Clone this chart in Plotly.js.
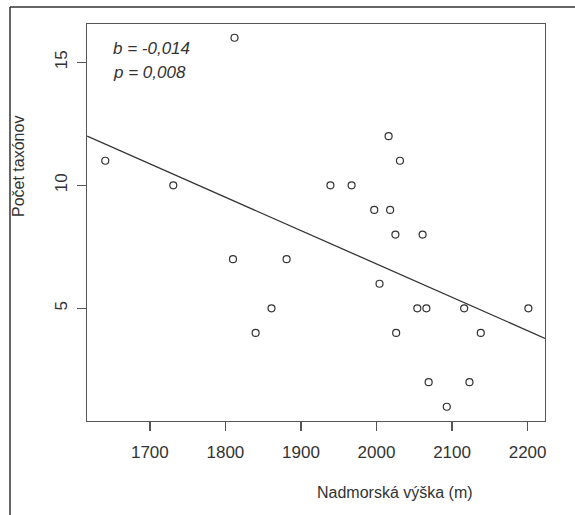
<!DOCTYPE html>
<html>
<head>
<meta charset="utf-8">
<script src="https://cdn.plot.ly/plotly-3.0.1.min.js"></script>
<style>html,body{margin:0;padding:0;background:#fff;}#chart{width:575px;height:515px;}</style>
</head>
<body>
<div id="chart"></div>
<script>
// Altitude (m) and number of taxa
const altitude = [1641, 1731, 1812, 1810, 1881, 1861, 1840,
                  2016, 2031, 1939, 1967, 1997, 2018, 2025, 2061,
                  2004, 2054, 2066, 2116, 2201, 2026, 2138, 2069, 2123, 2093];
const taxa     = [11, 10, 16, 7, 7, 5, 4,
                  12, 11, 10, 10, 9, 9, 8, 8,
                  6, 5, 5, 5, 5, 4, 4, 2, 2, 1];
// Regression line endpoints (read at plot edges)
const fitX = [1617, 2223];
const fitY = [12.0, 3.78];
const xTicks = [1700, 1800, 1900, 2000, 2100, 2200];
const yTicks = [5, 10, 15];
const statsText = ['b = -0,014', 'p = 0,008'];
const xTitle = 'Nadmorská výška (m)';
const yTitle = 'Počet taxónov';

const ink = '#333333';
const W = 575, H = 515;
const m = {l: 87, r: 30, t: 24, b: 94};
const pw = W - m.l - m.r, ph = H - m.t - m.b;
const px = v => (v - m.l) / pw;         // pixel -> paper x
const py = v => 1 - (v - m.t) / ph;     // pixel -> paper y

const traces = [
  {x: fitX, y: fitY, type: 'scatter', mode: 'lines',
   line: {color: ink, width: 1.3}, hoverinfo: 'skip', cliponaxis: true},
  {x: altitude, y: taxa, type: 'scatter', mode: 'markers',
   marker: {symbol: 'circle-open', size: 7, color: ink, line: {width: 1.2, color: ink}}}
];

const layout = {
  width: W, height: H, margin: m, showlegend: false,
  paper_bgcolor: '#fff', plot_bgcolor: '#fff',
  font: {family: 'Liberation Sans, Arial, sans-serif', color: ink, size: 16},
  xaxis: {range: [1616.8, 2223], tickvals: xTicks, ticktext: xTicks.map(String),
          showgrid: false, zeroline: false, showline: true, mirror: true,
          linecolor: '#555', linewidth: 1.3, ticks: 'outside', ticklen: 9, tickwidth: 1.3,
          tickcolor: '#555', ticklabelstandoff: 6, tickfont: {size: 17, color: ink}},
  yaxis: {range: [0.42, 16.56], tickvals: yTicks, ticktext: yTicks.map(String),
          showgrid: false, zeroline: false, showline: true, mirror: true,
          linecolor: '#555', linewidth: 1.3, ticks: 'outside', ticklen: 9, tickwidth: 1.3,
          tickcolor: '#555', tickangle: -90, ticklabelstandoff: 3, tickfont: {size: 17, color: ink}},
  annotations: [
    {xref: 'paper', yref: 'paper', x: px(111), y: py(49), xanchor: 'left', yanchor: 'middle',
     text: '<i>' + statsText[0] + '</i>', showarrow: false, font: {size: 17, color: ink}},
    {xref: 'paper', yref: 'paper', x: px(111), y: py(72), xanchor: 'left', yanchor: 'middle',
     text: '<i>' + statsText[1] + '</i>', showarrow: false, font: {size: 17, color: ink}},
    {xref: 'paper', yref: 'paper', x: px(394.5), y: py(492), xanchor: 'center', yanchor: 'middle',
     text: xTitle, showarrow: false, font: {size: 16, color: ink}},
    {xref: 'paper', yref: 'paper', x: px(19), y: py(167), xanchor: 'center', yanchor: 'middle',
     text: yTitle, textangle: -90, showarrow: false, font: {size: 16, color: ink}}
  ],
  shapes: [
    {type: 'line', xref: 'paper', yref: 'paper', x0: px(10), x1: px(10), y0: py(7), y1: py(520),
     line: {color: '#333', width: 1.5}},
    {type: 'line', xref: 'paper', yref: 'paper', x0: px(10), x1: px(580), y0: py(7), y1: py(7),
     line: {color: '#333', width: 1.5}}
  ]
};

Plotly.newPlot('chart', traces, layout, {staticPlot: true, displayModeBar: false});
</script>
</body>
</html>
